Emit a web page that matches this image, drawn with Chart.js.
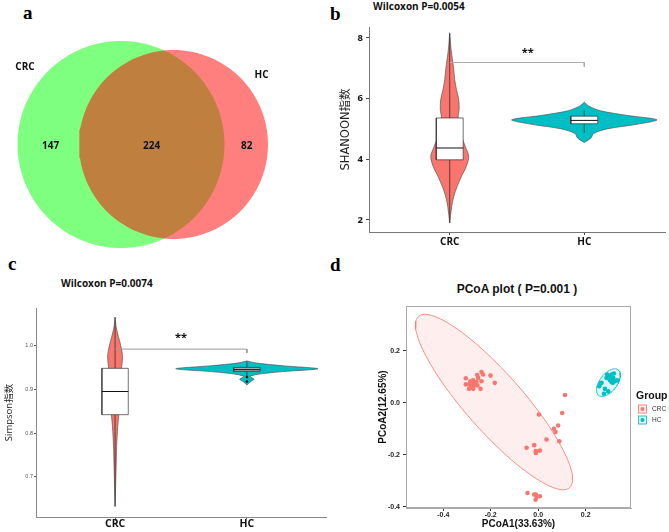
<!DOCTYPE html>
<html>
<head>
<meta charset="utf-8">
<script src="https://cdn.jsdelivr.net/npm/chart.js"></script>
<style>
  body { margin: 0; background: #fff; width: 669px; height: 532px; overflow: hidden; position: relative; }
  canvas { position: absolute; }
  .letter { position: absolute; font-family: "Liberation Serif", serif; font-weight: bold; font-size: 19px; line-height: 1; color: #000; }
  .wil { position: absolute; font-family: "Open Sans", sans-serif; font-weight: bold; font-size: 10px; line-height: 1; white-space: nowrap; color: #111; }
  .ptitle { position: absolute; font-family: "Liberation Sans", sans-serif; font-weight: bold; font-size: 12px; line-height: 1; white-space: nowrap; text-align: center; color: #111; }
</style>
</head>
<body>
<div class="letter" style="left:23px;top:3px">a</div>
<div class="letter" style="left:330px;top:4px">b</div>
<div class="letter" style="left:8px;top:254px">c</div>
<div class="letter" style="left:330px;top:255px">d</div>
<div class="wil" style="left:373px;top:1px">Wilcoxon P=0.0054</div>
<div class="wil" style="left:61px;top:278px">Wilcoxon P=0.0074</div>
<div class="ptitle" style="left:417px;top:283px;width:200px">PCoA plot ( P=0.001 )</div>

<canvas id="venn" width="330" height="260" style="left:0;top:0"></canvas>
<canvas id="shannon" width="339" height="260" style="left:330px;top:0"></canvas>
<canvas id="simpson" width="330" height="272" style="left:0;top:260px"></canvas>
<canvas id="pcoa" width="339" height="272" style="left:330px;top:260px"></canvas>

<script>
// ---- data ----
const groups = ['CRC', 'HC'];
const vennCounts = [147, 224, 82]; // CRC only, shared, HC only

const shannonTicks = [2, 4, 6, 8];
const shannonLevelsCRC = [1.9, 2.44, 2.77, 3.1, 3.43, 3.77, 4.1, 4.43, 4.87, 5.36, 5.64, 5.97, 6.3, 6.63, 6.96, 7.29, 7.62, 8.17];
const shannonWidthCRC = [0, 0.015, 0.03, 0.055, 0.087, 0.124, 0.141, 0.115, 0.08, 0.062, 0.07, 0.067, 0.05, 0.037, 0.03, 0.02, 0.01, 0];
const shannonLevelsHC = [4.55, 4.7, 4.85, 5.0, 5.15, 5.3, 5.45, 5.6, 5.75, 5.88];
const shannonWidthHC = [0, 0.05, 0.07, 0.17, 0.39, 0.54, 0.31, 0.12, 0.035, 0];
const shannonBoxCRC = [1.9, 3.98, 4.37, 5.36, 8.15]; // min, q1, median, q3, max
const shannonBoxHC = [4.87, 5.17, 5.28, 5.42, 5.6];

const simpsonTicks = [0.7, 0.8, 0.9, 1.0];
const simpsonLevelsCRC = [0.632, 0.723, 0.769, 0.815, 0.841, 0.87, 0.9, 0.93, 0.952, 0.975, 0.998, 1.021, 1.043, 1.065];
const simpsonWidthCRC = [0, 0.008, 0.012, 0.02, 0.028, 0.034, 0.04, 0.045, 0.05, 0.057, 0.045, 0.025, 0.008, 0];
const simpsonLevelsHC = [0.91, 0.917, 0.923, 0.929, 0.934, 0.94, 0.947, 0.954, 0.96, 0.965];
const simpsonWidthHC = [0, 0.025, 0.055, 0.025, 0.075, 0.25, 0.54, 0.27, 0.075, 0];
const simpsonBoxCRC = [0.632, 0.842, 0.895, 0.948, 1.065];
const simpsonBoxHC = [0.93, 0.941, 0.945, 0.95, 0.963];
const simpsonOutliersHC = [0.928, 0.918];

const pcoaTicks = [-0.4, -0.2, 0, 0.2];
const pcoaCRCx = [-0.305, -0.286, -0.274, -0.291, -0.281, -0.26, -0.257, -0.239, -0.256, -0.274, -0.291, -0.27, -0.239, -0.243, -0.305, -0.267, -0.201, -0.183, -0.232, -0.253, -0.281,
  0.113, 0.101, 0.003, 0.084, 0.066, 0.073, 0.089, 0.035, -0.017, -0.049, -0.01, -0.01, 0.007,
  -0.045, -0.017, -0.007, -0.011, 0.007, -0.01];
const pcoaCRCy = [0.095, 0.083, 0.087, 0.071, 0.073, 0.08, 0.107, 0.119, 0.067, 0.054, 0.054, 0.067, 0.083, 0.054, 0.071, 0.077, 0.105, 0.077, 0.109, 0.096, 0.064,
  0.03, -0.039, -0.045, -0.087, -0.1, -0.112, -0.148, -0.141, -0.163, -0.173, -0.186, -0.193, -0.184,
  -0.347, -0.353, -0.362, -0.373, -0.36, -0.353];
const pcoaHCx = [0.257, 0.267, 0.281, 0.295, 0.288, 0.302, 0.309, 0.319, 0.316, 0.323, 0.309, 0.333, 0.314, 0.291, 0.302, 0.277, 0.263, 0.316];
const pcoaHCy = [0.064, 0.077, 0.054, 0.044, 0.096, 0.103, 0.109, 0.113, 0.092, 0.083, 0.08, 0.087, 0.077, 0.109, 0.087, 0.035, 0.075, 0.096];

// ---- styling / layout ----
const red = '#F8766D', cyan = '#00BFC4';
const vennCircles = [[121, 144.5, 103.5], [173.5, 144.5, 94.5]]; // cx, cy, r in canvas px
const crcEllipse = [-0.186, 0.003, 0.318, -0.33, 0.092, 0.072];
const hcEllipse = [0.296, 0.078, 0.041, 0.049, 0.029, -0.021];

Chart.defaults.animation = false;
Chart.defaults.responsive = false;
Chart.defaults.devicePixelRatio = 1;
Chart.defaults.events = [];
Chart.defaults.plugins.legend.display = false;
Chart.defaults.plugins.tooltip.enabled = false;

function circlePoly(cx, cy, r) {
  const pts = [];
  for (let i = 0; i <= 90; i++) {
    const t = i / 90 * Math.PI * 2;
    pts.push({ x: cx + r * Math.cos(t), y: cy + r * Math.sin(t) });
  }
  return pts;
}
function ellipsePoly(e) {
  const [cx, cy, ux, uy, vx, vy] = e;
  const pts = [];
  for (let i = 0; i <= 100; i++) {
    const t = i / 100 * Math.PI * 2;
    pts.push({ x: cx + Math.cos(t) * ux + Math.sin(t) * vx, y: cy + Math.cos(t) * uy + Math.sin(t) * vy });
  }
  return pts;
}
function violinPoly(c, levels, widths) {
  const pts = [];
  for (let i = 0; i < levels.length; i++) pts.push({ x: c + widths[i], y: levels[i] });
  for (let i = levels.length - 1; i >= 0; i--) pts.push({ x: c - widths[i], y: levels[i] });
  return pts;
}
function line(data, color, width, order, extra) {
  return Object.assign({ data, showLine: true, pointRadius: 0, fill: false, borderColor: color, borderWidth: width, order }, extra || {});
}
function violinSets(c, levels, widths, box, color, boxFill) {
  const h = 0.1;
  return [
    line(violinPoly(c, levels, widths), '#444', 0.6, 6, { fill: 'shape', backgroundColor: color, tension: 0.3 }),
    line([{ x: c, y: box[0] }, { x: c, y: box[4] }], '#222', 0.7, 5),
    line([{ x: c - h, y: box[1] }, { x: c + h, y: box[1] }, { x: c + h, y: box[3] }, { x: c - h, y: box[3] }, { x: c - h, y: box[1] }],
      '#333', 0.7, 4, { fill: 'shape', backgroundColor: boxFill }),
    line([{ x: c - h, y: box[2] }, { x: c + h, y: box[2] }], '#111', 1, 3)
  ];
}
function textPlugin(items) {
  return {
    id: 'txt',
    afterDatasetsDraw(chart) {
      const { ctx, scales: { x, y } } = chart;
      ctx.save();
      ctx.textAlign = 'center';
      ctx.textBaseline = 'middle';
      items.forEach(t => {
        ctx.font = t.font;
        ctx.fillStyle = t.color || '#111';
        ctx.fillText(t.text, x.getPixelForValue(t.x), y.getPixelForValue(t.y));
      });
      ctx.restore();
    }
  };
}
const fixedTicks = arr => s => { s.ticks = arr.map(v => ({ value: v })); };

// ---- a: Venn ----
new Chart(document.getElementById('venn'), {
  type: 'scatter',
  data: {
    datasets: [
      line(circlePoly(...vennCircles[0]), 'rgba(0,0,0,0)', 0, 2, { fill: 'shape', backgroundColor: 'rgba(0,255,0,0.5)' }),
      line(circlePoly(...vennCircles[1]), 'rgba(0,0,0,0)', 0, 1, { fill: 'shape', backgroundColor: 'rgba(255,0,0,0.5)' })
    ]
  },
  options: {
    layout: { padding: 0 },
    scales: {
      x: { type: 'linear', min: 0, max: 330, display: false },
      y: { type: 'linear', min: 0, max: 260, reverse: true, display: false }
    }
  },
  plugins: [textPlugin([
    { text: groups[0], x: 25, y: 67, font: 'bold 10px "Open Sans"' },
    { text: groups[1], x: 261.5, y: 75, font: 'bold 10px "Open Sans"' },
    { text: String(vennCounts[0]), x: 50.7, y: 146, font: 'bold 10px "Open Sans"' },
    { text: String(vennCounts[1]), x: 151.7, y: 146, font: 'bold 10px "Open Sans"' },
    { text: String(vennCounts[2]), x: 246.7, y: 146, font: 'bold 10px "Open Sans"' }
  ])]
});

// ---- b: Shannon violins ----
new Chart(document.getElementById('shannon'), {
  type: 'scatter',
  data: {
    datasets: [
      ...violinSets(1, shannonLevelsCRC, shannonWidthCRC, shannonBoxCRC, red, '#fff'),
      ...violinSets(2, shannonLevelsHC, shannonWidthHC, shannonBoxHC, cyan, '#fff'),
      line([{ x: 1, y: 7.19 }, { x: 2, y: 7.19 }, { x: 2, y: 7.05 }], '#aaa', 1, 0)
    ]
  },
  options: {
    layout: { padding: { left: 0, right: 4, top: 27, bottom: 0 } },
    scales: {
      x: {
        type: 'linear', min: 0.4, max: 2.6,
        afterBuildTicks: fixedTicks([1, 2]),
        afterFit: s => { s.height = 28; },
        ticks: { callback: v => groups[v - 1], font: { family: 'Open Sans', weight: 'bold', size: 10 }, color: '#111', padding: 1, maxRotation: 0, autoSkip: false },
        grid: { drawOnChartArea: false, tickLength: 3, color: '#444' },
        border: { color: '#777' }
      },
      y: {
        type: 'linear', min: 1.6, max: 8.36,
        afterBuildTicks: fixedTicks(shannonTicks),
        afterFit: s => { s.width = 39; },
        ticks: { font: { family: 'Open Sans', weight: 'bold', size: 9.5 }, color: '#111', padding: 3 },
        grid: { drawOnChartArea: false, tickLength: 3, color: '#444' },
        border: { color: '#777' },
        title: { display: true, text: 'SHANOON指数', font: { family: '"DejaVu Sans", "Noto Sans CJK SC"', size: 11.5 }, color: '#222', padding: { top: 9, bottom: 0 } }
      }
    }
  },
  plugins: [textPlugin([{ text: '**', x: 1.58, y: 7.5, font: 'bold 11px "Open Sans"' }])]
});

// ---- c: Simpson violins ----
new Chart(document.getElementById('simpson'), {
  type: 'scatter',
  data: {
    datasets: [
      ...violinSets(1, simpsonLevelsCRC, simpsonWidthCRC, simpsonBoxCRC, red, '#fff'),
      ...violinSets(2, simpsonLevelsHC, simpsonWidthHC, simpsonBoxHC, cyan, '#aaa'),
      { data: simpsonOutliersHC.map(v => ({ x: 2, y: v })), pointRadius: 1.3, backgroundColor: '#111', borderWidth: 0, order: 2 },
      line([{ x: 1, y: 0.992 }, { x: 2, y: 0.992 }, { x: 2, y: 0.983 }], '#999', 1, 0)
    ]
  },
  options: {
    layout: { padding: { left: 0, right: 0, top: 48, bottom: 0 } },
    scales: {
      x: {
        type: 'linear', min: 0.4, max: 2.6,
        afterBuildTicks: fixedTicks([1, 2]),
        afterFit: s => { s.height = 15; },
        ticks: { callback: v => groups[v - 1], font: { family: 'Open Sans', weight: 'bold', size: 10.5, lineHeight: 1 }, color: '#111', padding: 0, maxRotation: 0, autoSkip: false },
        grid: { drawOnChartArea: false, tickLength: 2, color: '#555' },
        border: { color: '#888' }
      },
      y: {
        type: 'linear', min: 0.608, max: 1.086,
        afterBuildTicks: fixedTicks(simpsonTicks),
        afterFit: s => { s.width = 36; },
        ticks: { callback: v => v.toFixed(1), font: { family: 'Liberation Sans', size: 5.5 }, color: '#555', padding: 1 },
        grid: { drawOnChartArea: false, tickLength: 2, color: '#555' },
        border: { color: '#888' },
        title: { display: true, text: 'Simpson指数', font: { family: '"Open Sans", "Noto Sans CJK SC"', size: 9.5 }, color: '#222', padding: { top: 4, bottom: 0 } }
      }
    }
  },
  plugins: [textPlugin([{ text: '**', x: 1.5, y: 1.018, font: 'bold 11px "Open Sans"' }])]
});

// ---- d: PCoA ----
const framePlugin = {
  id: 'frame',
  afterDraw(chart) {
    const { ctx, chartArea: a } = chart;
    ctx.save();
    ctx.strokeStyle = '#aaa';
    ctx.lineWidth = 1;
    ctx.strokeRect(a.left + 0.5, a.top + 0.5, a.right - a.left - 1, a.bottom - a.top - 1);
    ctx.restore();
  }
};
const groupLegend = {
  id: 'groupLegend',
  afterDraw(chart) {
    const ctx = chart.ctx;
    const fills = ['rgba(248,118,109,0.15)', 'rgba(0,191,196,0.15)'];
    const cols = [red, cyan];
    ctx.save();
    ctx.font = 'bold 10.5px "Liberation Sans"';
    ctx.fillStyle = '#111';
    ctx.textBaseline = 'middle';
    ctx.fillText('Group', 306, 136);
    groups.forEach((g, i) => {
      const cy = 149 + i * 11;
      ctx.fillStyle = fills[i];
      ctx.fillRect(308, cy - 4.5, 9, 9);
      ctx.strokeStyle = cols[i];
      ctx.lineWidth = 0.8;
      ctx.strokeRect(308.5, cy - 4, 8, 8);
      ctx.fillStyle = cols[i];
      ctx.beginPath();
      ctx.arc(312.5, cy, 2, 0, Math.PI * 2);
      ctx.fill();
      ctx.fillStyle = '#333';
      ctx.font = '6.5px "Liberation Sans"';
      ctx.fillText(g, 322, cy + 0.5);
    });
    ctx.restore();
  }
};
new Chart(document.getElementById('pcoa'), {
  type: 'scatter',
  data: {
    datasets: [
      line(ellipsePoly(crcEllipse), red, 0.8, 4, { fill: 'shape', backgroundColor: 'rgba(248,118,109,0.12)' }),
      line(ellipsePoly(hcEllipse), cyan, 0.8, 3, { fill: 'shape', backgroundColor: 'rgba(0,191,196,0.12)' }),
      { data: pcoaCRCx.map((x, i) => ({ x, y: pcoaCRCy[i] })), pointRadius: 2.3, backgroundColor: red, borderWidth: 0, order: 2 },
      { data: pcoaHCx.map((x, i) => ({ x, y: pcoaHCy[i] })), pointRadius: 2.3, backgroundColor: cyan, borderWidth: 0, order: 1 }
    ]
  },
  options: {
    layout: { padding: { left: 40, right: 38, top: 46, bottom: 0 } },
    scales: {
      x: {
        type: 'linear', min: -0.557, max: 0.391,
        afterBuildTicks: fixedTicks(pcoaTicks),
        afterFit: s => { s.height = 24; },
        ticks: { callback: v => v.toFixed(1), font: { family: 'Liberation Sans', weight: 'bold', size: 7 }, color: '#222', padding: 0, maxRotation: 0, autoSkip: false },
        grid: { drawOnChartArea: false, tickLength: 3, color: '#333' },
        border: { color: '#aaa' },
        title: { display: true, text: 'PCoA1(33.63%)', font: { family: 'Liberation Sans', weight: 'bold', size: 10 }, color: '#111', padding: { top: 0, bottom: 2 } }
      },
      y: {
        type: 'linear', min: -0.405, max: 0.373,
        afterBuildTicks: fixedTicks(pcoaTicks),
        afterFit: s => { s.width = 36; },
        ticks: { callback: v => v.toFixed(1), font: { family: 'Liberation Sans', weight: 'bold', size: 7 }, color: '#222', padding: 3 },
        grid: { drawOnChartArea: false, tickLength: 3, color: '#333' },
        border: { color: '#aaa' },
        title: { display: true, text: 'PCoA2(12.65%)', font: { family: 'Liberation Sans', weight: 'bold', size: 10 }, color: '#111', padding: { top: 7, bottom: 0 } }
      }
    }
  },
  plugins: [framePlugin, groupLegend]
});
</script>
</body>
</html>
